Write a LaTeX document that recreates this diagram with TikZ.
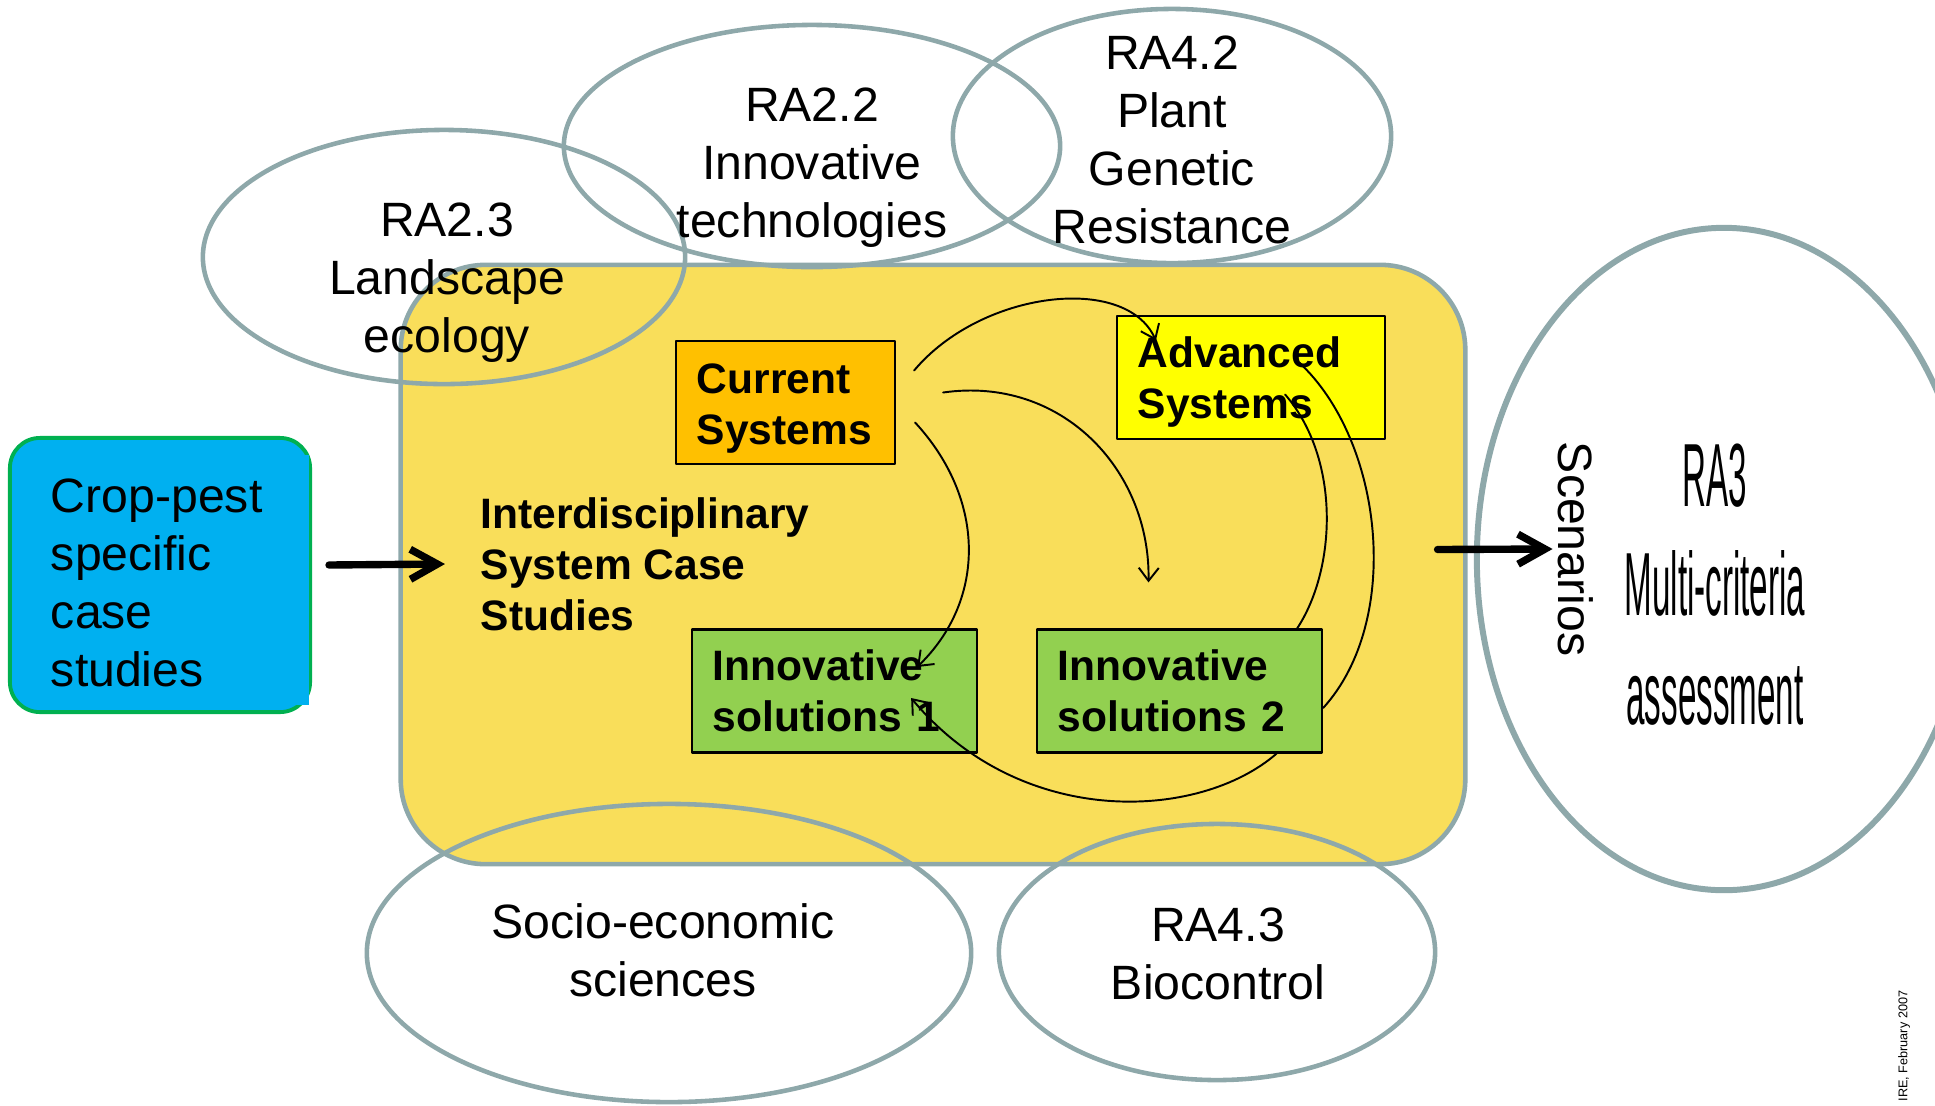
\documentclass[tikz,border=0pt]{standalone}
\usepackage{fontspec}
\usepackage{graphicx}
\setmainfont{Liberation Sans}
\usetikzlibrary{shapes.geometric,arrows.meta}
\hyphenpenalty=10000
\definecolor{raline}{HTML}{8EA8AA}
\definecolor{caseyellow}{HTML}{F9DE5A}
\definecolor{curfill}{HTML}{FFC000}
\definecolor{advfill}{HTML}{FFFF00}
\definecolor{innfill}{HTML}{92D050}
\definecolor{cropblue}{HTML}{00B0F0}
\definecolor{cropgreen}{HTML}{00B050}
\tikzset{
  ra/.style={draw=raline, line width=1.3pt, ellipse, inner sep=0pt},
  ratext/.style={font=\fontsize{13.7pt}{16.5pt}\selectfont, align=center, inner sep=0pt},
  sysbox/.style={draw, line width=0.6pt, inner xsep=0.21cm, inner ysep=0pt, minimum height=1.23cm, align=left, font=\fontsize{12.1pt}{14.5pt}\selectfont\bfseries},
  flow/.style={line width=0.55pt, ->},
  bigarrow/.style={line width=2.1pt, -{Straight Barb[length=0.27cm,width=0.3cm]}},
}
\begin{document}
\begin{tikzpicture}[x=0.01cm, y=-0.01cm, >={Straight Barb[length=0.13cm,width=0.2cm]}, line cap=round, line join=round]
\useasboundingbox (0,0) rectangle (1935,1105);
% case study frame
\node[draw=raline, fill=caseyellow, line width=1.3pt, rounded corners=0.85cm, minimum width=10.64cm, minimum height=5.99cm] (isc) at (933,564.5) {};
% research areas
\node[ra, minimum width=4.82cm, minimum height=2.54cm] (ra23) at (444,257) {};
\node[ra, minimum width=4.96cm, minimum height=2.42cm] (ra22) at (812,146) {};
\node[ra, minimum width=4.38cm, minimum height=2.54cm] (ra42) at (1172,136) {};
\node[ra, minimum width=6.04cm, minimum height=2.98cm] (socio) at (669,953) {};
\node[ra, minimum width=4.36cm, minimum height=2.56cm] (ra43) at (1217,952) {};
\node[ra, line width=1.7pt, minimum width=4.94cm, minimum height=6.62cm] (ra3) at (1724,559) {};
\node[ratext] (ra23t) at (447,283) {RA2.3\\Landscape\\ecology};
\node[ratext] (ra22t) at (812,168) {RA2.2\\Innovative\\technologies};
\node[ratext] (ra42t) at (1172,140) {RA4.2\\Plant\\Genetic\\Resistance};
\node[ratext] (sociot) at (663,950) {Socio-economic\\sciences};
\node[ratext] (ra43t) at (1218,954) {RA4.3\\Biocontrol};
% systems
\node[anchor=west, inner sep=0pt, align=left, font=\fontsize{12.1pt}{14.5pt}\selectfont\bfseries] (isct) at (480,564) {Interdisciplinary\\System Case\\Studies};
\node[sysbox, fill=curfill, text width=1.77cm] (cur) at (785.5,402.5) {\rule{0pt}{12pt}Current\\Systems};
\node[sysbox, fill=advfill, text width=2.26cm] (adv) at (1251,377.5) {\rule{0pt}{11.5pt}Advanced\\Systems};
\node[sysbox, fill=innfill, text width=2.43cm] (inn1) at (834.5,691) {Innovative\\solutions 1};
\node[sysbox, fill=innfill, text width=2.43cm] (inn2) at (1179.5,691) {Innovative\\solutions 2};
\coordinate (s2end) at ([shift={(-31,-46)}]inn2.north);
\draw[flow] ([shift={(18,-32)}]cur.east) .. controls +(67,-80) and +(-30,-67) .. ([shift={(40,-37)}]adv.west);
\draw[flow] ([shift={(47,-10)}]cur.east) .. controls +(118,-17) and +(2,-113) .. (s2end);
\draw[flow] ([shift={(19,20)}]cur.east) .. controls +(71,77) and +(69,-67) .. ([shift={(-61,-24)}]inn1.east);
\draw[line width=0.55pt] ([shift={(-101,17)}]adv.east) .. controls +(56,65) and +(39,-59) .. ([xshift=-0.26cm]inn2.north east);
\draw[line width=0.55pt] ([shift={(-87,-15)}]adv.east) .. controls +(84,78) and +(80,-88) .. ([shift={(0,17)}]inn2.east);
\draw[flow] ([xshift=0.97cm]inn2.south) .. controls +(-77,67) and +(110,132) .. ([shift={(-67,7)}]inn1.east);
% input and output
\node[draw=cropgreen, fill=cropblue, line width=1.1pt, rounded corners=0.3cm, minimum width=3cm, minimum height=2.74cm, inner xsep=0.41cm, text width=2.18cm, align=left, font=\fontsize{13.7pt}{16.5pt}\selectfont] (crop) at (160,575) {\rule{0pt}{14pt}Crop-pest\\specific\\case\\studies};
\fill[cropblue] (290,455) rectangle (309,705);
\draw[bigarrow] ([xshift=0.17cm,yshift=0.1cm]crop.east) -- ([xshift=-0.35cm]isct.west);
\node[rotate=-90, inner sep=0pt, font=\fontsize{13.7pt}{16.5pt}\selectfont] (scen) at (1576,549) {Scenarios};
\draw[bigarrow] ([xshift=-0.3cm,yshift=0.15cm]isc.east) -- ([xshift=-0.05cm]scen.south);
\node[inner sep=0pt, font=\fontsize{25.5pt}{31pt}\selectfont] (ra3t) at (1715,594) {\scalebox{0.37}[1]{\begin{tabular}{@{}c@{}}RA3\\Multi-criteria\\assessment\end{tabular}}};
\node[rotate=90, inner sep=0pt, font=\fontsize{3.6pt}{4pt}\selectfont] (date) at (1904,1046) {IRE, February 2007};
\end{tikzpicture}
\end{document}
